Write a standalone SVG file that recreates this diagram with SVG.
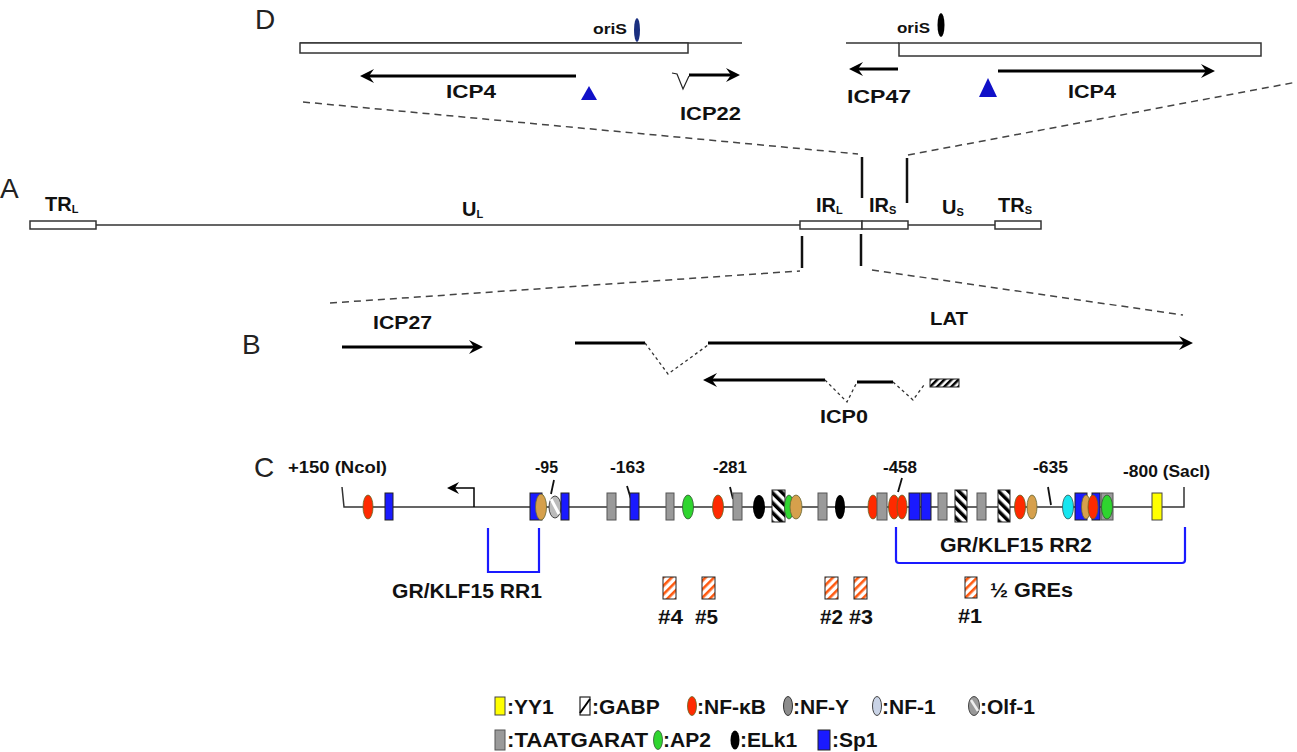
<svg xmlns="http://www.w3.org/2000/svg" width="1297" height="752" viewBox="0 0 1297 752">
<style>
text{font-family:"Liberation Sans",Arial,sans-serif;fill:#111}
.sec{font-size:28px;font-weight:normal;fill:#222}
.lb{font-size:19px;font-weight:bold}
.ax{font-size:20px;font-weight:bold}
.sub{font-size:11px}
.num{font-size:16px;font-weight:bold}
.lg{font-size:21px;font-weight:bold}
.thin{stroke:#333;stroke-width:1.5;fill:none}
.box{fill:#fff;stroke:#333;stroke-width:1.5}
.arr{stroke:#000;stroke-width:3;fill:none;marker-end:url(#ah)}
.tick{stroke:#111;stroke-width:2.5;fill:none}
.dash{stroke:#444;stroke-width:1.5;fill:none;stroke-dasharray:7 5}
.dot{stroke:#333;stroke-width:1.3;fill:none;stroke-dasharray:3 3}
.gr{fill:#9a9a9a;stroke:#555;stroke-width:1}
.bl{fill:#1a1aff;stroke:#222;stroke-width:1}
.rd{fill:#ff2a00;stroke:#662;stroke-width:0.8}
.or{fill:#d6a04c;stroke:#663;stroke-width:0.8}
.gn{fill:#2fd52f;stroke:#353;stroke-width:0.8}
.bk{fill:#000}
.cy{fill:#16e6f0;stroke:#355;stroke-width:0.8}
.ye{fill:#ffff00;stroke:#444;stroke-width:1}
.gabp{fill:url(#hk);stroke:#222;stroke-width:1}
.gre{fill:url(#ho);stroke:#222;stroke-width:1}
.brk{stroke:#1a1aff;stroke-width:2.2;fill:none}
</style>
<defs>
<marker id="ah" viewBox="-18 -8 19 16" refX="-4" refY="0" markerWidth="19" markerHeight="16" markerUnits="userSpaceOnUse" orient="auto"><path d="M0,0 L-14,-7 L-9,0 L-14,7 Z" fill="#000"/></marker>
<marker id="ahs" viewBox="-14 -7 15 14" refX="-2" refY="0" markerWidth="15" markerHeight="14" markerUnits="userSpaceOnUse" orient="auto"><path d="M0,0 L-12,-6 L-8,0 L-12,6 Z" fill="#000"/></marker>
<pattern id="hk" patternUnits="userSpaceOnUse" width="7" height="7" patternTransform="rotate(-45)"><rect width="7" height="7" fill="#fff"/><rect width="3.5" height="7" fill="#000"/></pattern>
<pattern id="ho" patternUnits="userSpaceOnUse" width="6" height="6" patternTransform="rotate(45)"><rect width="6" height="6" fill="#fff"/><rect width="2.6" height="6" fill="#ff5a10"/></pattern>
<pattern id="hb" patternUnits="userSpaceOnUse" width="5" height="5" patternTransform="rotate(45)"><rect width="5" height="5" fill="#fff"/><rect width="2.5" height="5" fill="#000"/></pattern>
</defs>
<rect width="1297" height="752" fill="#fff"/>

<!-- connectors: zoom dashed lines -->
<g id="connectors">
<path class="dash" d="M303,102 L858,154"/>
<path class="dash" d="M908,155 L1297,82"/>
<path class="dash" d="M330,303 L800,271"/>
<path class="dash" d="M872,270 L1183,315"/>
<path class="tick" d="M862,157 V198"/>
<path class="tick" d="M907,158 V203"/>
<path class="tick" d="M802,236 V268"/>
<path class="tick" d="M861,234 V266"/>
</g>

<!-- Panel D -->
<g id="panel-D">
<text class="sec" x="255" y="29">D</text>
<g id="D-left">
<path class="thin" d="M300,43 H742"/>
<rect class="box" x="300" y="43" width="388" height="10"/>
<text x="593" y="34" font-size="15" font-weight="bold" textLength="34" lengthAdjust="spacingAndGlyphs">oriS</text>
<ellipse cx="637" cy="30" rx="3" ry="12" fill="#1a2f80"/>
<path class="arr" d="M576,76 H364"/>
<text class="lb" x="446" y="98" textLength="50" lengthAdjust="spacingAndGlyphs">ICP4</text>
<polygon points="589,86 581,100 597,100" fill="#1010c8"/>
<path d="M672,73 L677,74 L683,89 L689,76" stroke="#222" stroke-width="1.2" fill="none"/>
<path class="arr" d="M689,75 H736"/>
<text class="lb" x="680" y="120" textLength="61" lengthAdjust="spacingAndGlyphs">ICP22</text>
</g>
<g id="D-right">
<path class="thin" d="M846,43 H899"/>
<rect class="box" x="899" y="43" width="362" height="13"/>
<text x="897" y="33" font-size="15" font-weight="bold" textLength="33" lengthAdjust="spacingAndGlyphs">oriS</text>
<ellipse cx="941" cy="25" rx="3.5" ry="12" fill="#000"/>
<path class="arr" d="M898,69 H853"/>
<text class="lb" x="847" y="103" textLength="64" lengthAdjust="spacingAndGlyphs">ICP47</text>
<polygon points="988,78 979,97 997,97" fill="#1010c8"/>
<path class="arr" d="M998,71 H1211"/>
<text class="lb" x="1068" y="98" textLength="48" lengthAdjust="spacingAndGlyphs">ICP4</text>
</g>
</g>

<!-- Panel A -->
<g id="panel-A">
<text class="sec" x="0" y="198">A</text>
<path class="thin" d="M96,225 H800 M908,225 H995"/>
<g id="TRL"><rect class="box" x="30" y="221" width="66" height="8"/><text class="ax" x="45" y="211">TR<tspan class="sub" dy="2">L</tspan></text></g>
<g id="UL"><text class="ax" x="462" y="216">U<tspan class="sub" dy="2">L</tspan></text></g>
<g id="IRL"><rect class="box" x="800" y="221" width="62" height="8"/><text class="ax" x="816" y="212">IR<tspan class="sub" dy="2">L</tspan></text></g>
<g id="IRS"><rect class="box" x="862" y="221" width="46" height="8"/><text class="ax" x="869" y="212">IR<tspan class="sub" dy="2">S</tspan></text></g>
<g id="US"><text class="ax" x="942" y="214">U<tspan class="sub" dy="2">S</tspan></text></g>
<g id="TRS"><rect class="box" x="995" y="221" width="46" height="8"/><text class="ax" x="998" y="212">TR<tspan class="sub" dy="2">S</tspan></text></g>
</g>

<!-- Panel B -->
<g id="panel-B">
<text class="sec" x="242" y="354">B</text>
<g id="ICP27"><path class="arr" d="M342,347 H479"/><text class="lb" x="373" y="329" textLength="59" lengthAdjust="spacingAndGlyphs">ICP27</text></g>
<g id="LAT">
<path d="M575,343 H645" stroke="#000" stroke-width="3"/>
<path class="dot" d="M645,343 L668,374 L708,345"/>
<path class="arr" d="M708,343 H1189"/>
<text class="lb" x="930" y="325" textLength="38" lengthAdjust="spacingAndGlyphs">LAT</text>
</g>
<g id="ICP0">
<path class="arr" d="M825,380 H707"/>
<path class="dot" d="M825,380 L847,402 L857,382"/>
<path d="M857,382 H893" stroke="#000" stroke-width="3"/>
<path class="dot" d="M893,382 L913,400 L924,385"/>
<rect x="930" y="379" width="29" height="8" fill="url(#hb)" stroke="#222" stroke-width="1"/>
<text class="lb" x="820" y="423" textLength="48" lengthAdjust="spacingAndGlyphs">ICP0</text>
</g>
</g>

<!-- Panel C -->
<g id="panel-C">
<text class="sec" x="254" y="477">C</text>
<g id="promoter-line">
<path d="M342,487 L344,507 H1184 V487" stroke="#333" stroke-width="1.5" fill="none"/>
<path d="M474,507 V488 H449" stroke="#000" stroke-width="1.5" fill="none" marker-end="url(#ahs)"/>
</g>
<g id="labels-C">
<text class="num" x="288" y="473" textLength="99" lengthAdjust="spacingAndGlyphs">+150 (NcoI)</text>
<text class="num" x="535" y="473" textLength="23" lengthAdjust="spacingAndGlyphs">-95</text>
<text class="num" x="610" y="473" textLength="35" lengthAdjust="spacingAndGlyphs">-163</text>
<text class="num" x="713" y="473" textLength="34" lengthAdjust="spacingAndGlyphs">-281</text>
<text class="num" x="883" y="473" textLength="34" lengthAdjust="spacingAndGlyphs">-458</text>
<text class="num" x="1033" y="473" textLength="35" lengthAdjust="spacingAndGlyphs">-635</text>
<text class="num" x="1123" y="477" textLength="87" lengthAdjust="spacingAndGlyphs">-800 (SacI)</text>
</g>
<g id="ticks-C" stroke="#111" stroke-width="1.8" fill="none">
<path d="M554,480 L551,494"/>
<path d="M627,486 L631,499"/>
<path d="M730,487 L733,499"/>
<path d="M902,478 L898,492"/>
<path d="M1048,487 L1051,505"/>
</g>
<g id="sites">
<ellipse class="rd" cx="368" cy="507" rx="5" ry="12"/>
<rect class="bl" x="385" y="493" width="8" height="27"/>
<rect class="bl" x="530" y="493" width="12" height="27"/>
<ellipse class="or" cx="541" cy="507" rx="5.5" ry="13"/>
<ellipse cx="555" cy="507" rx="6" ry="11" fill="#bbb" stroke="#444" stroke-width="1"/>
<path d="M551,499 L559,514" stroke="#fff" stroke-width="3"/>
<rect class="bl" x="561" y="493" width="8" height="27"/>
<rect class="gr" x="607" y="493" width="9" height="27"/>
<rect class="bl" x="630" y="493" width="9" height="27"/>
<rect class="gr" x="666" y="493" width="8" height="27"/>
<ellipse class="gn" cx="688" cy="507" rx="5.5" ry="12"/>
<ellipse class="rd" cx="718" cy="507" rx="5.5" ry="12"/>
<rect class="gr" x="733" y="493" width="9" height="27"/>
<ellipse class="bk" cx="759" cy="507" rx="6" ry="12"/>
<rect class="gabp" x="772" y="490" width="13" height="32"/>
<ellipse class="gn" cx="789" cy="507" rx="4.5" ry="12"/>
<ellipse class="or" cx="796" cy="507" rx="6" ry="12"/>
<rect class="gr" x="818" y="493" width="9" height="27"/>
<ellipse class="bk" cx="840" cy="507" rx="5" ry="12"/>
<ellipse class="rd" cx="873" cy="507" rx="5" ry="12"/>
<rect class="gr" x="877" y="493" width="10" height="27"/>
<ellipse class="rd" cx="894" cy="507" rx="5.5" ry="12"/>
<ellipse class="rd" cx="902" cy="507" rx="5" ry="12"/>
<rect class="bl" x="909" y="493" width="11" height="27"/>
<rect class="bl" x="921" y="493" width="10" height="27"/>
<rect class="gr" x="938" y="493" width="9" height="27"/>
<rect class="gabp" x="955" y="490" width="12" height="32"/>
<rect class="gr" x="977" y="493" width="9" height="27"/>
<rect class="gabp" x="998" y="490" width="12" height="32"/>
<ellipse class="rd" cx="1020" cy="507" rx="5.5" ry="12"/>
<ellipse class="or" cx="1032" cy="507" rx="5" ry="12"/>
<ellipse class="cy" cx="1068" cy="507" rx="5.5" ry="12"/>
<rect class="bl" x="1075" y="493" width="12" height="27"/>
<rect class="bl" x="1092" y="493" width="8" height="27"/>
<ellipse class="or" cx="1086" cy="507" rx="4.5" ry="12"/>
<ellipse class="rd" cx="1093" cy="507" rx="5" ry="12"/>
<rect class="gr" x="1101" y="493" width="12" height="27"/>
<ellipse class="gn" cx="1107" cy="507" rx="5.5" ry="12"/>
<rect class="ye" x="1152" y="493" width="10" height="27"/>
</g>
<g id="RR1"><path class="brk" d="M488,528 V572 H539 V528"/><text class="ax" x="392" y="598" textLength="150" lengthAdjust="spacingAndGlyphs">GR/KLF15 RR1</text></g>
<g id="RR2"><path class="brk" d="M896,527 V560 Q896,563 899,563 H1182 Q1185,563 1185,560 V527"/><text class="ax" x="940" y="552" textLength="152" lengthAdjust="spacingAndGlyphs">GR/KLF15 RR2</text></g>
<g id="GREs">
<rect class="gre" x="663" y="577" width="13" height="22"/><text class="ax" x="658" y="624" textLength="25" lengthAdjust="spacingAndGlyphs">#4</text>
<rect class="gre" x="702" y="577" width="13" height="22"/><text class="ax" x="695" y="624" textLength="23" lengthAdjust="spacingAndGlyphs">#5</text>
<rect class="gre" x="825" y="577" width="13" height="22"/><text class="ax" x="820" y="624" textLength="23" lengthAdjust="spacingAndGlyphs">#2</text>
<rect class="gre" x="854" y="577" width="13" height="22"/><text class="ax" x="849" y="624" textLength="24" lengthAdjust="spacingAndGlyphs">#3</text>
<rect class="gre" x="965" y="577" width="12" height="21"/><text class="ax" x="958" y="623" textLength="24" lengthAdjust="spacingAndGlyphs">#1</text>
<text class="ax" x="990" y="597" textLength="83" lengthAdjust="spacingAndGlyphs">½ GREs</text>
</g>
</g>

<!-- Legend -->
<g id="legend">
<g id="lg-YY1"><rect class="ye" x="495" y="697" width="10" height="18"/><text class="lg" x="507" y="714">:YY1</text></g>
<g id="lg-GABP"><rect x="580" y="697" width="10" height="18" fill="#fff" stroke="#222" stroke-width="1.2"/><path d="M580,713 L590,699" stroke="#000" stroke-width="2"/><text class="lg" x="592" y="714">:GABP</text></g>
<g id="lg-NFkB"><ellipse class="rd" cx="692" cy="706" rx="4.5" ry="9.5"/><text class="lg" x="697" y="714">:NF-κB</text></g>
<g id="lg-NFY"><ellipse cx="788" cy="706" rx="4.5" ry="9.5" fill="#8c8c8c" stroke="#333" stroke-width="1"/><text class="lg" x="793" y="714">:NF-Y</text></g>
<g id="lg-NF1"><ellipse cx="877" cy="706" rx="4.5" ry="9.5" fill="#c9d3e6" stroke="#444" stroke-width="1"/><text class="lg" x="882" y="714">:NF-1</text></g>
<g id="lg-Olf1"><ellipse cx="974" cy="706" rx="5.5" ry="9.5" fill="#999" stroke="#444" stroke-width="1"/><path d="M971,700 L978,711" stroke="#eee" stroke-width="2.5"/><text class="lg" x="980" y="714">:Olf-1</text></g>
<g id="lg-TAAT"><rect class="gr" x="495" y="730" width="10" height="20"/><text class="lg" x="507" y="747" textLength="141" lengthAdjust="spacingAndGlyphs">:TAATGARAT</text></g>
<g id="lg-AP2"><ellipse class="gn" cx="658" cy="740" rx="4.5" ry="9.5"/><text class="lg" x="663" y="747">:AP2</text></g>
<g id="lg-ELk1"><ellipse class="bk" cx="735" cy="740" rx="4.5" ry="9.5"/><text class="lg" x="740" y="747">:ELk1</text></g>
<g id="lg-Sp1"><rect class="bl" x="818" y="730" width="12" height="20"/><text class="lg" x="832" y="747">:Sp1</text></g>
</g>
</svg>
